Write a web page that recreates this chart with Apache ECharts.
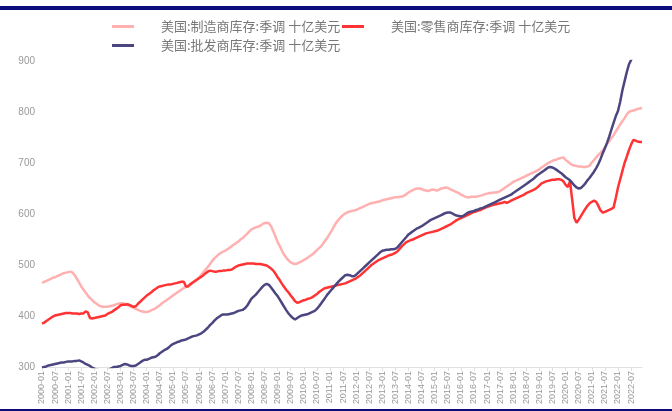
<!DOCTYPE html>
<html><head><meta charset="utf-8">
<script src="https://cdn.jsdelivr.net/npm/echarts@6/dist/echarts.min.js"></script>
<style>html,body{margin:0;padding:0;background:#fff}#c{width:672px;height:411px}</style>
</head><body><div id="c"></div>
<script>
var seriesNames = ['美国:制造商库存:季调 十亿美元', '美国:零售商库存:季调 十亿美元', '美国:批发商库存:季调 十亿美元'];
var yTicks = [300, 400, 500, 600, 700, 800, 900];

// monthly, 2000-01 .. 2022-12
var manufacturing = [
465,467,469,471,473,475,476,478,480,482,484,485,
486,487,485,480,473,466,458,452,446,440,435,431,
427,424,421,419,418,418,418,419,420,421,423,424,
425,425,424,422,420,418,416,414,412,410,409,408,
408,409,411,413,415,418,421,425,428,431,434,437,
440,443,446,449,452,455,457,460,463,466,469,472,
476,481,486,491,496,502,508,513,517,521,524,526,
528,531,534,537,540,543,546,550,553,557,561,566,
570,572,574,575,577,580,582,583,582,576,566,556,
545,537,528,520,514,509,505,503,502,503,505,507,
510,512,515,518,521,525,529,533,537,543,549,555,
562,569,577,584,589,594,598,601,603,605,606,607,
608,610,612,614,616,618,620,621,622,623,624,625,
627,628,629,630,631,632,633,633,634,634,636,639,
642,645,647,649,650,650,649,647,646,645,647,648,
647,646,648,650,651,652,651,649,647,645,643,641,
638,636,634,633,633,634,634,634,635,636,637,639,
640,641,641,642,642,643,645,648,651,654,657,660,
663,665,667,669,671,673,675,677,679,681,683,685,
688,691,694,697,700,702,704,706,707,709,710,711,
706,703,699,696,695,694,693,693,692,692,693,695,
701,706,711,716,720,725,731,737,743,749,755,762,
769,776,782,788,795,800,802,803,804,806,807,808
];
var retail = [
385,387,390,393,396,399,401,402,403,404,405,406,
406,406,405,405,405,404,405,405,409,407,396,395,
396,397,398,399,400,401,404,406,408,411,414,417,
421,422,422,423,422,420,418,419,424,428,432,436,
440,443,446,450,453,456,458,459,460,461,462,462,
463,464,465,466,467,467,458,458,462,465,468,471,
474,477,480,484,487,489,488,487,487,488,488,489,
489,490,490,491,494,497,499,500,501,502,503,503,
503,503,502,502,502,501,500,499,496,493,489,483,
476,470,463,457,451,446,440,435,429,426,427,429,
431,432,434,435,437,440,443,447,450,453,455,456,
457,458,459,460,461,462,463,464,466,468,470,472,
474,477,480,484,488,492,496,500,503,506,509,511,
513,515,517,519,520,522,524,527,532,537,541,545,
547,549,550,552,554,556,558,560,562,563,564,565,
566,567,569,571,573,575,577,579,582,585,588,590,
592,594,596,598,600,602,604,605,607,608,610,612,
614,615,617,618,619,620,621,622,624,622,624,626,
628,630,632,634,636,638,641,643,645,647,649,652,
656,660,662,664,665,666,667,667,668,668,667,664,
657,653,664,628,592,583,589,596,603,610,616,621,
624,626,624,616,607,603,604,606,608,610,613,632,
652,668,684,700,712,725,736,745,744,742,741,741
];
var wholesale = [
299,300,301,303,304,305,306,307,308,309,309,310,
311,311,311,312,312,313,311,309,306,304,302,299,
297,295,294,293,293,293,294,296,298,300,300,301,
302,304,306,305,303,302,302,303,306,309,312,314,
314,316,318,319,320,323,327,330,333,335,338,342,
345,347,349,350,352,353,354,356,358,360,361,362,
364,366,369,373,377,382,386,391,395,398,401,403,
403,403,404,405,406,408,410,411,412,415,420,427,
434,438,442,447,452,457,461,463,461,456,450,444,
439,432,425,418,411,405,400,396,393,396,399,401,
402,403,404,406,408,410,414,419,425,431,437,443,
448,453,458,463,468,472,476,480,481,480,478,478,
481,485,489,493,497,501,505,509,513,517,521,525,
528,529,530,530,531,531,532,535,540,545,550,555,
560,563,566,569,572,574,576,579,582,585,588,590,
592,594,596,598,600,602,603,603,601,599,597,596,
595,596,599,602,604,605,606,608,609,611,612,614,
616,618,620,622,624,626,628,630,632,634,636,638,
641,644,647,650,653,656,659,662,665,668,672,676,
679,682,685,688,691,692,691,689,686,683,680,676,
672,669,666,661,656,652,650,651,655,660,666,671,
677,683,690,698,708,719,729,740,752,766,779,792,
802,820,842,860,878,893,902,915,925,932,935,938
];
var categories = [];
for (var y = 2000; y <= 2022; y++) {
  for (var m = 1; m <= 12; m++) categories.push(y + '-' + (m < 10 ? '0' + m : '' + m));
}

var colors = ['#ffb0b0', '#ff3333', '#4b4680'];
var chart = echarts.init(document.getElementById('c'), null, {renderer: 'canvas'});
function legendAt(i, left, top) {
  return {
    data: [seriesNames[i]], left: left, top: top, icon: 'rect',
    itemWidth: 22, itemHeight: 3, selectedMode: false,
    textStyle: {color: '#777', fontSize: 13, fontFamily: 'Noto Sans CJK SC', padding: [0, 0, 0, 22]}
  };
}
chart.setOption({
  animation: false,
  backgroundColor: '#fff',
  color: colors,
  graphic: [
    {type: 'rect', shape: {x: 0, y: 6, width: 672, height: 4}, style: {fill: '#0b0b7e'}},
    {type: 'rect', shape: {x: 0, y: 409, width: 672, height: 2}, style: {fill: '#0b0b7e'}}
  ],
  legend: [legendAt(0, 107, 15), legendAt(1, 337, 15), legendAt(2, 107, 34)],
  grid: {left: 42, right: 30, top: 61, bottom: 44},
  xAxis: {
    type: 'category', data: categories, boundaryGap: false,
    axisLine: {lineStyle: {color: '#e0e0e0'}},
    axisTick: {interval: 5, length: 4, lineStyle: {color: '#e0e0e0'}},
    axisLabel: {interval: 5, rotate: 90, fontSize: 9, color: '#999', fontFamily: 'Liberation Sans', margin: 4}
  },
  yAxis: {
    type: 'value', min: yTicks[0], max: yTicks[yTicks.length - 1], interval: 100,
    splitLine: {show: false}, axisLine: {show: false}, axisTick: {show: false},
    axisLabel: {fontSize: 10, color: '#999', fontFamily: 'Liberation Sans', margin: 7}
  },
  series: [
    {name: seriesNames[0], type: 'line', data: manufacturing, showSymbol: false, clip: true, lineStyle: {width: 2.5}},
    {name: seriesNames[1], type: 'line', data: retail, showSymbol: false, clip: true, lineStyle: {width: 2.5}},
    {name: seriesNames[2], type: 'line', data: wholesale, showSymbol: false, clip: true, lineStyle: {width: 2.5}}
  ]
});
</script></body></html>
